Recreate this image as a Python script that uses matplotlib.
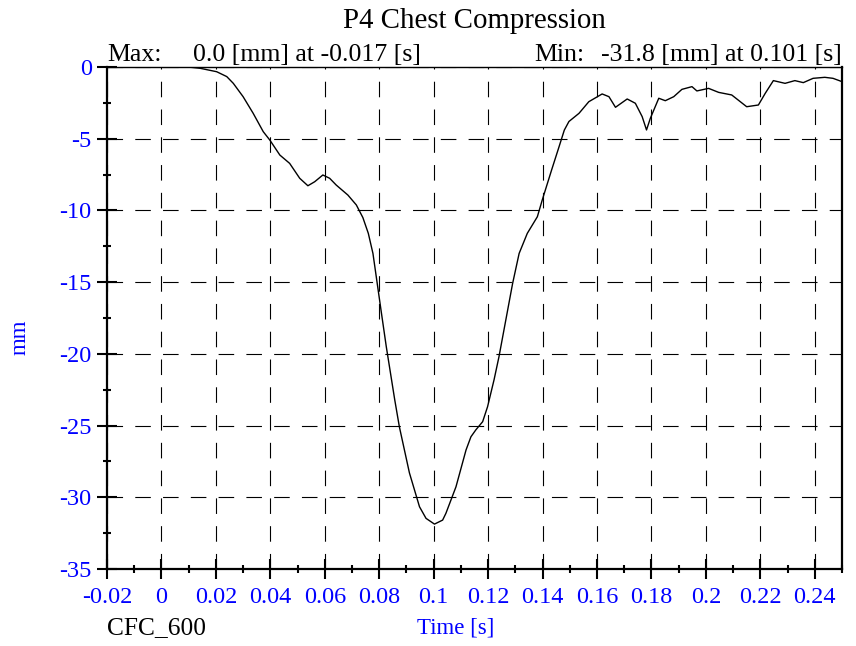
import matplotlib.pyplot as plt
from matplotlib.ticker import MultipleLocator, FuncFormatter

# chest deflection trace
time_s = [-0.02, 0.0, 0.010, 0.0142, 0.0203, 0.0240, 0.0264, 0.0300, 0.0337,
          0.0374, 0.0398, 0.0435, 0.0471, 0.0508, 0.0538, 0.0563, 0.0593,
          0.0618, 0.0642, 0.0685, 0.0716, 0.0740, 0.0760, 0.0777, 0.0789,
          0.0807, 0.0826, 0.0857, 0.0874, 0.0911, 0.0948, 0.0972, 0.1003,
          0.1033, 0.1045, 0.1082, 0.1119, 0.1137, 0.1155, 0.1180, 0.1198,
          0.1222, 0.1240, 0.1290, 0.1314, 0.1344, 0.1381, 0.1399, 0.1433,
          0.1460, 0.1480, 0.1497, 0.1534, 0.1570, 0.1619, 0.1644, 0.1668,
          0.1711, 0.1741, 0.1766, 0.1782, 0.1796, 0.1827, 0.1851, 0.1882,
          0.1912, 0.1949, 0.1967, 0.2010, 0.2047, 0.2095, 0.2150, 0.2193,
          0.2218, 0.2248, 0.2291, 0.2327, 0.2358, 0.2394, 0.2437, 0.2467,
          0.2500]
defl_mm = [0.0, 0.0, 0.0, -0.09, -0.33, -0.67, -1.14, -2.07, -3.23,
           -4.51, -5.09, -6.14, -6.72, -7.76, -8.28, -8.0, -7.53,
           -7.76, -8.23, -8.93, -9.62, -10.5, -11.6, -13.0, -14.6,
           -17.0, -19.5, -23.2, -25.08, -28.3, -30.66, -31.47, -31.87,
           -31.59, -31.12, -29.27, -26.7, -25.78, -25.3, -24.73, -23.69,
           -21.8, -20.2, -15.1, -13.0, -11.6, -10.44, -9.27, -7.2,
           -5.6, -4.4, -3.8, -3.23, -2.42, -1.88, -2.07, -2.81,
           -2.23, -2.53, -3.46, -4.39, -3.58, -2.18, -2.35, -2.07,
           -1.56, -1.37, -1.67, -1.49, -1.77, -1.95, -2.77, -2.65,
           -1.84, -0.95, -1.14, -0.95, -1.09, -0.79, -0.72, -0.79,
           -1.02]

title = 'P4 Chest Compression'
max_txt = '0.0 [mm] at -0.017 [s]'
min_txt = '-31.8 [mm] at 0.101 [s]'

blue = '#0000ff'
plt.rcParams['font.family'] = ['Liberation Serif', 'DejaVu Serif']
plt.rcParams['font.size'] = 16.5

fig = plt.figure(figsize=(8.56, 6.46), dpi=100)
ax = fig.add_axes([0.125, 0.1192, 0.8586, 0.7771])

ax.plot(time_s, defl_mm, color='k', lw=1.0, zorder=3)

ax.set_xlim(-0.02, 0.25)
ax.set_ylim(-35, 0)
ax.xaxis.set_major_locator(MultipleLocator(0.02))
ax.xaxis.set_minor_locator(MultipleLocator(0.01))
ax.yaxis.set_major_locator(MultipleLocator(5))
ax.yaxis.set_minor_locator(MultipleLocator(2.5))
ax.xaxis.set_major_formatter(FuncFormatter(lambda v, p: '{:g}'.format(round(v, 3))))
ax.yaxis.set_major_formatter(FuncFormatter(lambda v, p: '{:g}'.format(v)))

ax.grid(True, which='major', color='k', lw=0.8, linestyle=(0, (14, 11)))
ax.tick_params(which='major', direction='inout', length=14, width=1.5,
               colors='k', labelcolor=blue, labelsize=17.5)
ax.tick_params(axis='x', which='major', pad=6)
ax.tick_params(axis='y', which='major', pad=4)
ax.tick_params(which='minor', direction='inout', length=6, width=1.5)

for side in ['left', 'bottom', 'right']:
    ax.spines[side].set_linewidth(1.6)
ax.spines['top'].set_linewidth(1.0)

ax.text(0.5, 1.078, title, transform=ax.transAxes, ha='center',
        va='baseline', fontsize=20.8)
ax.text(0.0, 1.012, 'Max:', transform=ax.transAxes, ha='left',
        va='baseline', fontsize=18.6)
ax.text(0.117, 1.012, max_txt, transform=ax.transAxes, ha='left',
        va='baseline', fontsize=18.6)
ax.text(0.582, 1.012, 'Min:', transform=ax.transAxes, ha='left',
        va='baseline', fontsize=18.6)
ax.text(1.0, 1.012, min_txt, transform=ax.transAxes, ha='right',
        va='baseline', fontsize=18.6)

ax.text(-0.118, 0.462, 'mm', transform=ax.transAxes, rotation=90,
        ha='center', va='center', color=blue)
ax.text(0.475, -0.1175, 'Time [s]', transform=ax.transAxes,
        ha='center', va='center', color=blue)
ax.text(0.0, -0.1175, 'CFC_600', transform=ax.transAxes,
        ha='left', va='center', color='k', fontsize=18.3)

fig.savefig('out.png', dpi=100)
